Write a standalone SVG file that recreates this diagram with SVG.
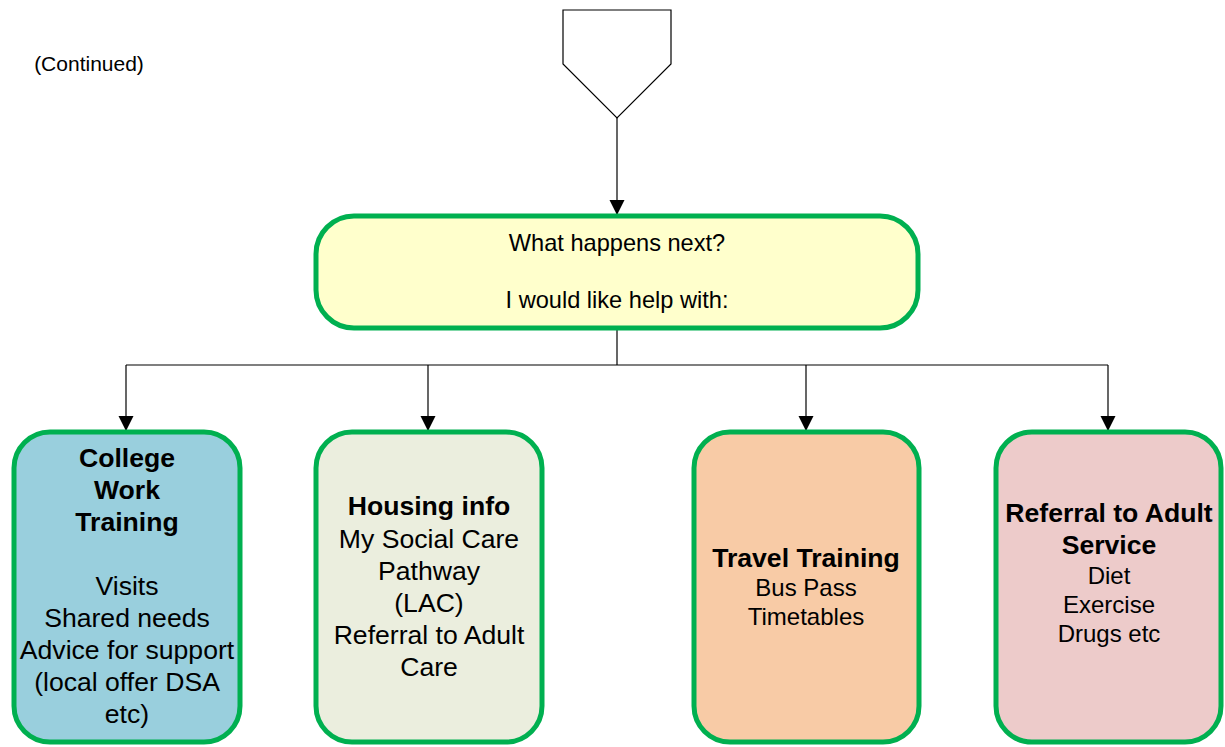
<svg xmlns="http://www.w3.org/2000/svg" width="1225" height="747" viewBox="0 0 1225 747">
<defs>
<marker id="arr" markerUnits="userSpaceOnUse" markerWidth="16" markerHeight="16" viewBox="0 0 16 16" refX="15" refY="8" orient="auto">
<path d="M0,0.5 L15,8 L0,15.5 Z" fill="#000"/>
</marker>
<style>
.box{stroke:#00B050;stroke-width:5}
.ln{fill:none;stroke:#000;stroke-width:1.2}
text{font-family:"Liberation Sans",Arial,sans-serif;fill:#000;text-anchor:middle}
.b{font-weight:bold;font-size:26.6px}
.r26{font-size:26.6px}
.r24{font-size:24px}
.top{font-size:23.6px}
</style>
</defs>
<rect width="1225" height="747" fill="#fff"/>
<text x="89" y="71" style="font-size:21px">(Continued)</text>
<g id="offpage">
<polygon points="563,10 671,10 671,64 617,118 563,64" fill="#fff" stroke="#000" stroke-width="1.2"/>
</g>
<g id="connectors">
<line class="ln" x1="617" y1="118" x2="617" y2="215" marker-end="url(#arr)"/>
<polyline class="ln" points="617,330 617,365"/>
<line class="ln" x1="126" y1="365" x2="1108" y2="365"/>
<line class="ln" x1="126" y1="365" x2="126" y2="431" marker-end="url(#arr)"/>
<line class="ln" x1="428" y1="365" x2="428" y2="431" marker-end="url(#arr)"/>
<line class="ln" x1="806" y1="365" x2="806" y2="431" marker-end="url(#arr)"/>
<line class="ln" x1="1108" y1="365" x2="1108" y2="431" marker-end="url(#arr)"/>
</g>
<g id="next">
<rect class="box" x="316" y="216" width="602" height="112" rx="38" fill="#FFFFCC"/>
<text class="top" x="617" y="251">What happens next?</text>
<text class="top" x="617" y="308">I would like help with:</text>
</g>
<g id="college">
<rect class="box" x="14" y="432" width="226" height="310" rx="36" fill="#99CFDD"/>
<text class="b" x="127" y="467">College</text>
<text class="b" x="127" y="499">Work</text>
<text class="b" x="127" y="531">Training</text>
<text class="r26" x="127" y="595">Visits</text>
<text class="r26" x="127" y="627">Shared needs</text>
<text class="r26" x="127" y="659">Advice for support</text>
<text class="r26" x="127" y="691">(local offer DSA</text>
<text class="r26" x="127" y="723">etc)</text>
</g>
<g id="housing">
<rect class="box" x="316" y="432" width="226" height="310" rx="36" fill="#EBEEDE"/>
<text class="b" x="429" y="515">Housing info</text>
<text class="r26" x="429" y="548">My Social Care</text>
<text class="r26" x="429" y="580">Pathway</text>
<text class="r26" x="429" y="612">(LAC)</text>
<text class="r26" x="429" y="644">Referral to Adult</text>
<text class="r26" x="429" y="676">Care</text>
</g>
<g id="travel">
<rect class="box" x="694" y="432" width="225" height="310" rx="36" fill="#F8CBA6"/>
<text class="b" x="806" y="567">Travel Training</text>
<text class="r24" x="806" y="596">Bus Pass</text>
<text class="r24" x="806" y="625">Timetables</text>
</g>
<g id="adult">
<rect class="box" x="996" y="432" width="225" height="310" rx="36" fill="#EDCBCA"/>
<text class="b" x="1109" y="522">Referral to Adult</text>
<text class="b" x="1109" y="554">Service</text>
<text class="r24" x="1109" y="584">Diet</text>
<text class="r24" x="1109" y="613">Exercise</text>
<text class="r24" x="1109" y="642">Drugs etc</text>
</g>
</svg>
